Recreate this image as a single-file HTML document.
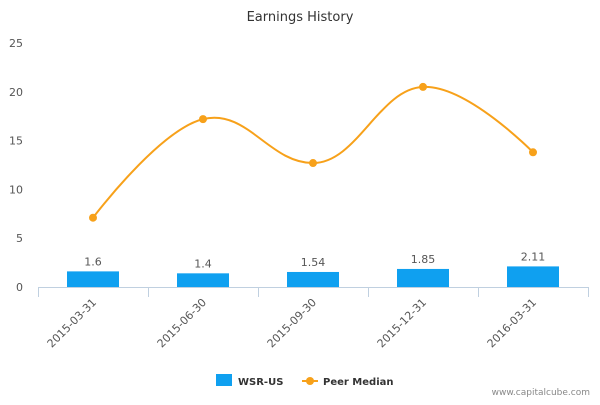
<!DOCTYPE html>
<html><head><meta charset="utf-8"><style>
body{margin:0;background:#fff;}
svg text{font-family:"DejaVu Sans","Liberation Sans",sans-serif;}
</style></head><body>
<svg width="600" height="400" xmlns="http://www.w3.org/2000/svg">
<rect width="600" height="400" fill="#fff"/>
<text x="300" y="21" text-anchor="middle" font-size="13" fill="#333">Earnings History</text>
<g id="yaxis"></g>
<g id="xaxis"></g>
<g id="bars"></g>
<g id="line"></g>
<g>
<g>
<rect x="216" y="374" width="16" height="12" fill="#0fa0f0"/>
<text x="238" y="385" font-size="10" font-weight="bold" fill="#333">WSR-US</text></g>
<g>
<line x1="302" y1="381" x2="318" y2="381" stroke="#f7a11a" stroke-width="2"/>
<circle cx="310" cy="381" r="4" fill="#f7a11a"/>
<text x="323" y="385" font-size="10" font-weight="bold" fill="#333">Peer Median</text></g>
</g>
<text x="590" y="395" text-anchor="end" font-size="9" fill="#888">www.capitalcube.com</text>
</svg>
<script>
const categories=["2015-03-31","2015-06-30","2015-09-30","2015-12-31","2016-03-31"];
const wsrValues=[1.6,1.4,1.54,1.85,2.11];
const wsrLabels=["1.6","1.4","1.54","1.85","2.11"];
const peerValues=[7.1,17.2,12.7,20.5,13.8];
const yTicks=[0,5,10,15,20,25];
const NS="http://www.w3.org/2000/svg";
const x0=38,x1=588,y0=287,y1=43,yMax=25;
const band=(x1-x0)/categories.length;
const xc=i=>x0+band*(i+0.5);
const ys=v=>y0-(v/yMax)*(y0-y1);
function mk(t,a,p,txt){const e=document.createElementNS(NS,t);for(const k in a)e.setAttribute(k,a[k]);if(txt!==undefined)e.textContent=txt;p.appendChild(e);return e;}
const ya=document.getElementById('yaxis'),xa=document.getElementById('xaxis'),bg=document.getElementById('bars'),lg=document.getElementById('line');
yTicks.forEach(t=>{const e=mk('text',{x:23,y:ys(t)+4,'text-anchor':'end','font-size':11,fill:'#555'},ya,String(t));

});
mk('line',{x1:x0,y1:y0+0.5,x2:x1,y2:y0+0.5,stroke:'#c0d0e0'},xa);
for(let i=0;i<=categories.length;i++){mk('line',{x1:x0+band*i+0.5,y1:y0,x2:x0+band*i+0.5,y2:y0+10,stroke:'#c0d0e0'},xa);}
categories.forEach((c,i)=>{const x=xc(i)+4,y=y0+16;const e=mk('text',{x:x,y:y,'text-anchor':'end','font-size':11,fill:'#555',transform:`rotate(-45 ${x} ${y})`},xa,c);

});
wsrValues.forEach((v,i)=>{const r=mk('rect',{x:xc(i)-26,y:ys(v),width:52,height:y0-ys(v),fill:'#0fa0f0'},bg);


const t=mk('text',{x:xc(i),y:ys(v)-6,'text-anchor':'middle','font-size':11,fill:'#555'},bg,wsrLabels[i]);

});
const pts=peerValues.map((v,i)=>[xc(i),ys(v)]);
let d=`M${pts[0][0]},${pts[0][1]}`;const s=1.5;
function ctrl(i){const p=pts[i-1],c=pts[i],n=pts[i+1];
let lx=(s*c[0]+p[0])/(s+1),ly=(s*c[1]+p[1])/(s+1),rx=(s*c[0]+n[0])/(s+1),ry=(s*c[1]+n[1])/(s+1);
const cor=(ry-ly)*(rx-c[0])/(rx-lx)+ly-c[1];ly-=cor;ry-=cor;
if(ly>Math.max(p[1],c[1])||ly<Math.min(p[1],c[1])){ly=c[1];ry=c[1];}
return [[lx,ly],[rx,ry]];}
const cs=pts.map((p,i)=>(i>0&&i<pts.length-1)?ctrl(i):[p,p]);
for(let i=1;i<pts.length;i++){const a=cs[i-1][1],b=cs[i][0];d+=` C${a[0]},${a[1]} ${b[0]},${b[1]} ${pts[i][0]},${pts[i][1]}`;}
const pl=mk('path',{d:d,fill:'none',stroke:'#f7a11a','stroke-width':2},lg);


pts.forEach((p,i)=>{const c=mk('circle',{cx:p[0],cy:p[1],r:4,fill:'#f7a11a'},lg);

});
</script>
</body></html>
